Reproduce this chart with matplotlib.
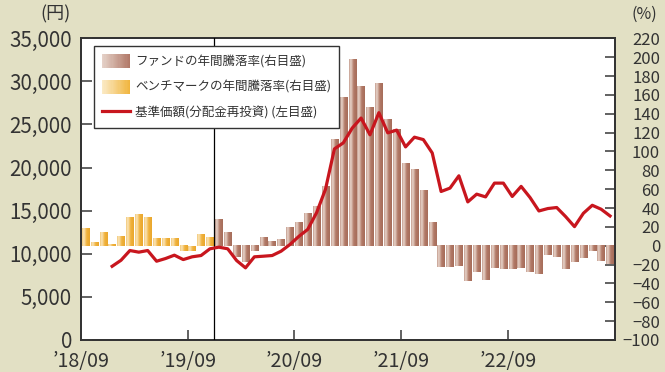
import numpy as np
import matplotlib
matplotlib.use("Agg")
import matplotlib.pyplot as plt
from matplotlib.patches import Rectangle
from matplotlib.lines import Line2D
from matplotlib.legend_handler import HandlerBase
from matplotlib.colors import LinearSegmentedColormap

plt.rcParams['font.family'] = ['Noto Sans CJK JP', 'DejaVu Sans']

# ---- data -------------------------------------------------------------
x_tick_labels = ["’18/09", "’19/09", "’20/09", "’21/09", "’22/09"]
x_tick_months = [0, 12, 24, 36, 48]

# benchmark annual return (%) before fund inception, monthly
bench_return = [18.4, 3.5, 14.1, 1.3, 9.9, 30.1, 33.3, 30.1, 7.7, 7.7,
                7.7, -5.8, -5.1, 12.0, 8.8]

# fund annual return (%) from inception, monthly
fund_return = [28.0, 14.1, -12.2, -17.5, -5.8, 8.8, 4.5, 6.7, 19.5, 24.8,
               34.4, 42.2, 63.5, 113.3, 157.0, 197.6, 168.8, 146.4, 172.0, 134.7,
               123.3, 88.0, 81.3, 59.3, 24.8, -22.8, -22.8, -21.8, -37.8, -28.2,
               -36.7, -23.9, -25.0, -25.0, -23.9, -28.2, -30.3, -10.1, -12.2, -25.0,
               -17.1, -13.2, -5.8, -16.5, -19.3]

# NAV (dividends reinvested), yen
nav = [8550, 9250, 10380, 10190, 10380, 9140, 9450, 9840, 9330, 9650,
       9800, 10580, 10770, 10580, 9220, 8370, 9650, 9720, 9800, 10300,
       11080, 12020, 12830, 14780, 17500, 22170, 22870, 24580, 25750, 23800,
       26370, 24030, 24350, 22400, 23530, 23250, 21700, 17230, 17620, 19050,
       16020, 16920, 16600, 18200, 18200, 16650, 17820, 16530, 14970, 15250,
       15370, 14320, 13150, 14700, 15630, 15170, 14390]

legend_labels = ["ファンドの年間騰落率(右目盛)",
                 "ベンチマークの年間騰落率(右目盛)",
                 "基準価額(分配金再投資) (左目盛)"]

# ---- style ------------------------------------------------------------
BG = "#e2e0c4"
TXT = "#333333"
LINE_RED = "#c8161e"

fund_cmap = LinearSegmentedColormap.from_list(
    "fund", [(0, "#c49c8d"), (0.22, "#e8d5cb"), (0.6, "#b27a67"), (1, "#a66c5a")])
bench_cmap = LinearSegmentedColormap.from_list(
    "bench", [(0, "#f2c878"), (0.22, "#fbe6bb"), (0.6, "#f0b23c"), (1, "#eaa72c")])
fund_leg_cmap = LinearSegmentedColormap.from_list("fl", ["#e6d3ca", "#b07766"])
bench_leg_cmap = LinearSegmentedColormap.from_list("bl", ["#fbebc8", "#f0b43c"])

n_months = len(bench_return) + len(fund_return)
inception = len(bench_return)
nav_start = n_months - len(nav)

fig = plt.figure(figsize=(6.65, 3.72), dpi=100, facecolor=BG)
ax = fig.add_axes([81 / 665, 1 - 340 / 372, (614.5 - 81) / 665, (340 - 38.3) / 372])
ax2 = ax.twinx()
ax.set_zorder(ax2.get_zorder() + 1)
ax.patch.set_visible(False)
ax2.patch.set_visible(True)
ax2.patch.set_facecolor("white")

# bars with a horizontal shading
grad = np.linspace(0, 1, 64).reshape(1, -1)


def shaded_bars(xs, vals, cmap):
    bars = ax2.bar(xs, vals, width=0.83, color=cmap(0.6), linewidth=0, zorder=2)
    for r in bars:
        x0 = r.get_x()
        x1 = x0 + r.get_width()
        y0 = min(r.get_y(), r.get_y() + r.get_height())
        y1 = max(r.get_y(), r.get_y() + r.get_height())
        ax2.imshow(grad, extent=[x0, x1, y0, y1], aspect="auto", cmap=cmap,
                   origin="lower", interpolation="bilinear", zorder=3)
    return bars


shaded_bars(np.arange(inception) + 0.5, bench_return, bench_cmap)
shaded_bars(np.arange(inception, n_months) + 0.5, fund_return, fund_cmap)

ax2.set_xlim(0, n_months)
ax2.set_ylim(-100, 220)
ax2.set_yticks(np.arange(-100, 221, 20))
ax2.tick_params(axis="y", direction="in", length=7, width=1.3, color="#555555",
                pad=32.8, labelsize=12, labelcolor=TXT)
for lbl in ax2.get_yticklabels():
    lbl.set_horizontalalignment("right")

# NAV line
ax.plot(np.arange(nav_start, n_months) + 0.5, nav, color=LINE_RED, lw=2.3,
        solid_joinstyle="round", zorder=4)
ax.axvline(inception, color="black", lw=0.9, zorder=3)

ax.set_xlim(0, n_months)
ax.set_ylim(0, 35000)
ax.set_yticks(np.arange(0, 35001, 5000))
ax.set_yticklabels([f"{v:,}" for v in range(0, 35001, 5000)])
ax.set_xticks(x_tick_months)
ax.set_xticklabels(x_tick_labels)
ax.tick_params(axis="y", direction="in", length=8, width=1.3, color="#555555",
               pad=6.5, labelsize=14.8, labelcolor=TXT)
ax.tick_params(axis="x", direction="in", length=7, width=1.3, color="#555555",
               pad=8, labelsize=14.2, labelcolor=TXT)

for a in (ax, ax2):
    for s in a.spines.values():
        s.set_color("#333333")
        s.set_linewidth(1.3)


class GradientHandler(HandlerBase):
    def __init__(self, cmap):
        super().__init__()
        self.cmap = cmap

    def create_artists(self, legend, orig_handle, xdescent, ydescent, width,
                       height, fontsize, trans):
        n = 24
        arts = []
        for k in range(n):
            arts.append(Rectangle((-xdescent + width * k / n, -ydescent),
                                  width / n * 1.05, height,
                                  facecolor=self.cmap((k + 0.5) / n),
                                  edgecolor="none", transform=trans))
        return arts


h_fund = Rectangle((0, 0), 1, 1)
h_bench = Rectangle((0, 0), 1, 1)
h_nav = Line2D([], [], color=LINE_RED, lw=2.3)
leg = ax.legend([h_fund, h_bench, h_nav], legend_labels,
                handler_map={h_fund: GradientHandler(fund_leg_cmap),
                             h_bench: GradientHandler(bench_leg_cmap)},
                loc="upper left", bbox_to_anchor=(13 / 533.5, 1 - 8 / 301.7),
                borderaxespad=0, fontsize=9, handlelength=2.24, handleheight=1.28,
                handletextpad=0.4, labelspacing=0.95, borderpad=0.64,
                fancybox=False, framealpha=1, edgecolor="#333333")
leg.get_frame().set_linewidth(1.0)
leg.set_zorder(10)
for t in leg.get_texts():
    t.set_color(TXT)

fig.text(55 / 665, 1 - 14.5 / 372, "(円)", ha="center", va="center",
         fontsize=13, color=TXT)
fig.text(644 / 665, 1 - 14 / 372, "(%)", ha="center", va="center",
         fontsize=11.5, color=TXT)

fig.savefig("out.png", dpi=100, facecolor=BG)
